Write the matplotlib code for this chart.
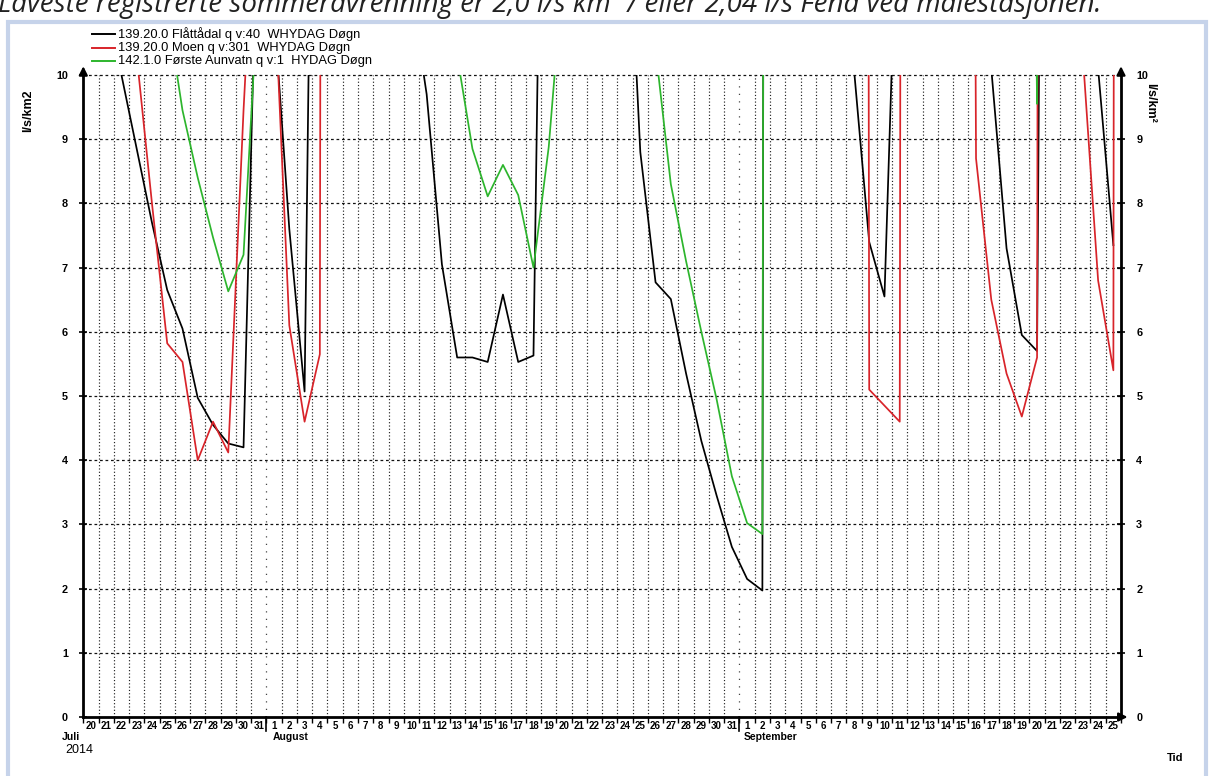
import numpy as np
import matplotlib
matplotlib.use("Agg")
import matplotlib.pyplot as plt
from matplotlib.lines import Line2D
from matplotlib.patches import Rectangle
import matplotlib.transforms as mtransforms

# ---- data (daily values, l/s/km2), 2014-07-20 .. 2014-09-26 ----
day_numbers = list(range(20, 32)) + list(range(1, 32)) + list(range(1, 26))
month_names = ["Juli", "August", "September"]
month_starts = [0, 12, 43]
year_label = "2014"

flattadal = [13.5, 11.8, 10.0, 8.85, 7.7, 6.65, 6.05, 4.97, 4.55, 4.26, 4.2, 13.5,
             11.0, 7.6, 5.07, 24.0, 30.0, 25.0, 20.0, 17.0, 13.0, 11.3, 9.7, 7.05,
             5.6, 5.6, 5.53, 6.58, 5.53, 5.63, 22.0, 25.0, 20.0, 17.0, 15.0, 13.7,
             8.8, 6.77, 6.51, 5.35, 4.3, 3.45, 2.65, 2.15, 1.97, 150.0, 60.0, 35.0,
             22.0, 15.0, 10.1, 7.4, 6.55, 14.0, 20.0, 18.0, 15.0, 13.0, 12.0, 10.1,
             7.3, 5.95, 5.7, 40.0, 30.0, 20.0, 10.1, 7.35, np.nan]

moen = [18.0, 15.0, 13.0, 10.3, 8.0, 5.82, 5.53, 4.0, 4.6, 4.12, 9.45, 14.0,
        11.5, 6.1, 4.6, 5.65, 150.0, 100.0, 80.0, 60.0, 50.0, 45.0, 40.0, 35.0,
        30.0, 28.0, 26.0, 25.0, 30.0, 60.0, 80.0, 60.0, 50.0, 40.0, 35.0, 30.0,
        28.0, 26.0, 24.0, 22.0, 20.0, 18.0, 16.0, 15.0, 14.0, 14.0, 15.0, 20.0,
        40.0, 80.0, 150.0, 5.1, 4.85, 4.6, 150.0, 60.0, 40.0, 60.0, 8.7, 6.5,
        5.35, 4.68, 5.6, 150.0, 40.0, 10.3, 6.8, 5.4, 200.0]

aunvatn = [25.0, 20.0, 16.0, 14.0, 12.5, 11.0, 9.45, 8.4, 7.47, 6.63, 7.2, 11.5,
           14.0, 16.0, 18.0, 20.0, 22.0, 20.0, 18.0, 16.0, 14.0, 13.0, 12.0, 11.5,
           10.3, 8.85, 8.11, 8.6, 8.13, 7.0, 8.88, 11.8, 15.0, 18.0, 16.0, 13.0,
           11.5, 10.4, 8.3, 7.1, 6.0, 4.95, 3.75, 3.02, 2.85, 150.0, 80.0, 50.0,
           35.0, 25.0, 20.0, 18.0, 16.0, 15.0, 14.0, 14.0, 15.0, 16.0, 18.0, 20.0,
           30.0, 30.0, 9.55, 150.0, 80.0, 40.0, 30.0, 25.0, np.nan]

series_labels = ["139.20.0 Flåttådal q v:40  WHYDAG Døgn",
                 "139.20.0 Moen q v:301  WHYDAG Døgn",
                 "142.1.0 Første Aunvatn q v:1  HYDAG Døgn"]
series_colors = ["#000000", "#d8242a", "#2db52d"]

title_text = "Laveste registrerte sommeravrenning er 2,0 l/s km² / eller 2,04 l/s Fena ved målestasjonen."

plt.rcParams['font.family'] = ['Liberation Sans', 'DejaVu Sans']
narrow = ['Liberation Sans Narrow', 'Liberation Sans', 'DejaVu Sans']

W, H = 1214, 776
fig = plt.figure(figsize=(W / 100, H / 100), dpi=100)

x0, x1, ytop, ybot = 83.3, 1121.0, 75.0, 717.0
ax = fig.add_axes([x0 / W, 1 - ybot / H, (x1 - x0) / W, (ybot - ytop) / H])

ndays = 68
xpos = np.arange(len(flattadal)) + 0.5

# grid
for d in range(1, ndays):
    if d in month_starts:
        ax.axvline(d, color="#444444", lw=0.9, ls=(0, (1, 5)), zorder=1)
    else:
        ax.axvline(d, color="#222222", lw=0.85, ls=(0, (1, 1.8)), zorder=1)
for yv in range(1, 11):
    ax.axhline(yv, color="#111111", lw=0.9, ls=(0, (2.2, 2.2)), zorder=1, clip_on=False)

for vals, col in zip([flattadal, moen, aunvatn], series_colors):
    ax.plot(xpos, vals, color=col, lw=1.25, zorder=3)

ax.set_xlim(0, ndays)
ax.set_ylim(0, 10)

for s in ["left", "bottom", "right"]:
    ax.spines[s].set_linewidth(2.0)
ax.spines["top"].set_visible(False)

# x ticks
ax.set_xticks(np.arange(0, ndays + 1))
ax.set_xticklabels([])
ax.tick_params(axis="x", which="major", length=4, width=1, direction="out")
ax.set_xticks(np.arange(ndays) + 0.5, minor=True)
ax.set_xticklabels([str(n) for n in day_numbers], minor=True)
ax.tick_params(axis="x", which="minor", length=0, pad=3)
for lab in ax.get_xticklabels(minor=True):
    lab.set_fontfamily(narrow)
    lab.set_fontweight("bold")
    lab.set_fontsize(7)

trans = mtransforms.blended_transform_factory(ax.transData, ax.transAxes)
for m in month_starts[1:]:
    ax.plot([m, m], [0, -0.022], transform=trans, color="black", lw=1.2, clip_on=False)

month_x = [-1.4, 12.4, 43.3]
for name, mx in zip(month_names, month_x):
    ax.text(mx, -0.024, name, transform=trans, ha="left", va="top",
            fontsize=7.5, fontweight="bold", family=narrow)
ax.text(-1.2, -0.042, year_label, transform=trans, ha="left", va="top", fontsize=9)
fig.text(1175 / W, 1 - 758 / H, "Tid", ha="center", va="center", fontsize=8,
         fontweight="bold", family=narrow)

# y ticks both sides
ax.set_yticks(range(0, 11))
ax.tick_params(axis="y", which="major", left=True, right=True, labelleft=True,
               labelright=True, length=4, width=1.2, direction="out", pad=8,
               labelsize=7.8)
for lab in ax.get_yticklabels():
    lab.set_fontweight("bold")
    lab.set_fontfamily(narrow)
ax.tick_params(axis="y", which="major", right=True, direction="inout", length=6)

# axis arrows
ap = dict(arrowstyle="-|>,head_length=0.5,head_width=0.25", lw=1.6, color="black")
ax.annotate("", xy=(0, 1.018), xytext=(0, 0.995), xycoords="axes fraction",
            arrowprops=ap, annotation_clip=False)
ax.annotate("", xy=(1, 1.018), xytext=(1, 0.995), xycoords="axes fraction",
            arrowprops=ap, annotation_clip=False)
ax.annotate("", xy=(1.009, 0), xytext=(0.995, 0), xycoords="axes fraction",
            arrowprops=ap, annotation_clip=False)

# axis labels
fig.text(28 / W, 1 - 111 / H, "l/s/km2", rotation=90, ha="center", va="center",
         fontsize=9, fontweight="bold", family=narrow)
fig.text(1150 / W, 1 - 103 / H, "l/s/km²", rotation=270, ha="center", va="center",
         fontsize=9, fontweight="bold", family=narrow)

# legend (manual, upper left)
for i, (lab, col) in enumerate(zip(series_labels, series_colors)):
    yy = 1 - (34 + 13.5 * i) / H
    fig.add_artist(Line2D([92 / W, 115 / W], [yy, yy], color=col, lw=1.4))
    fig.text(118 / W, yy, lab, ha="left", va="center", fontsize=9.3)

# frame and (partly cut, as in the screenshot) title
fig.add_artist(Rectangle((8 / W, -0.02), (1206 - 8) / W, 1 - 22 / H + 0.02,
                         transform=fig.transFigure, fill=False,
                         edgecolor="#c6d3ea", lw=3))
fig.text(-0.002, 1 - 12 / H, title_text, ha="left", va="baseline", fontsize=20,
         style="italic", family=["Open Sans", "DejaVu Sans"], color="#222222")

fig.savefig("out.png", dpi=100)
